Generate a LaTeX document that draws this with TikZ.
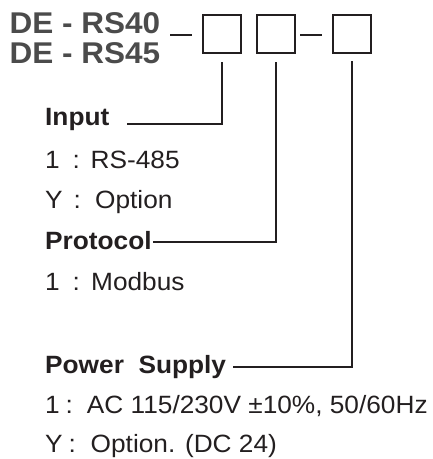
\documentclass[tikz,border=0pt]{standalone}
\usepackage{fontspec}
\setmainfont{Liberation Sans}[FakeStretch=1.05]
\newfontfamily\boldsans{Liberation Sans Bold}[FakeStretch=1.05]
\definecolor{ink}{HTML}{231F20}
\definecolor{titlegray}{HTML}{4B4B4B}
\newcommand\keyval[4]{\rlap{#3}\hspace*{#1pt}\makebox[0pt][c]{:}\hspace*{\dimexpr#2pt-#1pt\relax}#4}
\begin{document}
\begin{tikzpicture}[x=1pt,y=-1pt,
  title/.style={font=\fontsize{30}{32}\boldsans, text=titlegray, anchor=base west, inner sep=0},
  head/.style={font=\fontsize{25}{30}\boldsans, text=ink, anchor=base west, inner sep=0},
  item/.style={font=\fontsize{25}{30}\selectfont, text=ink, anchor=base west, inner sep=0},
  codebox/.style={draw=ink, line width=2pt, minimum size=38pt, inner sep=0},
  wire/.style={draw=ink, line width=2pt}]
\useasboundingbox (0,0) rectangle (433,459);
% title
\node[title] (t1) at (9.5,33.3) {DE - RS40};
\node[title] (t2) at (9.5,63.3) {DE - RS45};
% code boxes
\node[codebox] (b1) at (222,34.3) {};
\node[codebox] (b2) at (276.4,34.3) {};
\node[codebox] (b3) at (352,34.3) {};
% dashes
\coordinate (d1a) at (170,34.7);
\coordinate (d1b) at (192,34.7);
\coordinate (d2a) at (300,34.7);
\coordinate (d2b) at (322,34.7);
\draw[wire] (d1a) -- (d1b);
\draw[wire] (d2a) -- (d2b);
% headings and items
\node[head] (inp) at (45,125) {Input};
\node[item] (i1) at (45,168) {\keyval{31}{45.5}{1}{RS-485}};
\node[item] (i2) at (45,208) {\keyval{32}{50}{Y}{Option}};
\node[head] (pro) at (45,249) {Protocol};
\node[item] (p1) at (45,290) {\keyval{31}{46}{1}{Modbus}};
\node[head] (pow) at (45,373) {Power~~Supply};
\node[item] (w1) at (45,413) {\keyval{24}{41.7}{1}{AC 115/230V ±10\%, 50/60Hz}};
\node[item] (w2) at (45,452) {\keyval{27}{45.5}{Y}{Option. (DC 24)}};
% connectors
\coordinate (inpL) at (127,124);
\coordinate (proL) at (153,241.7);
\coordinate (powL) at (233,366.7);
\draw[wire] ([yshift=-8pt]b1.south) |- (inpL);
\draw[wire] ([yshift=-8pt]b2.south) |- (proL);
\draw[wire] ([yshift=-7pt]b3.south) |- (powL);
\end{tikzpicture}
\end{document}
